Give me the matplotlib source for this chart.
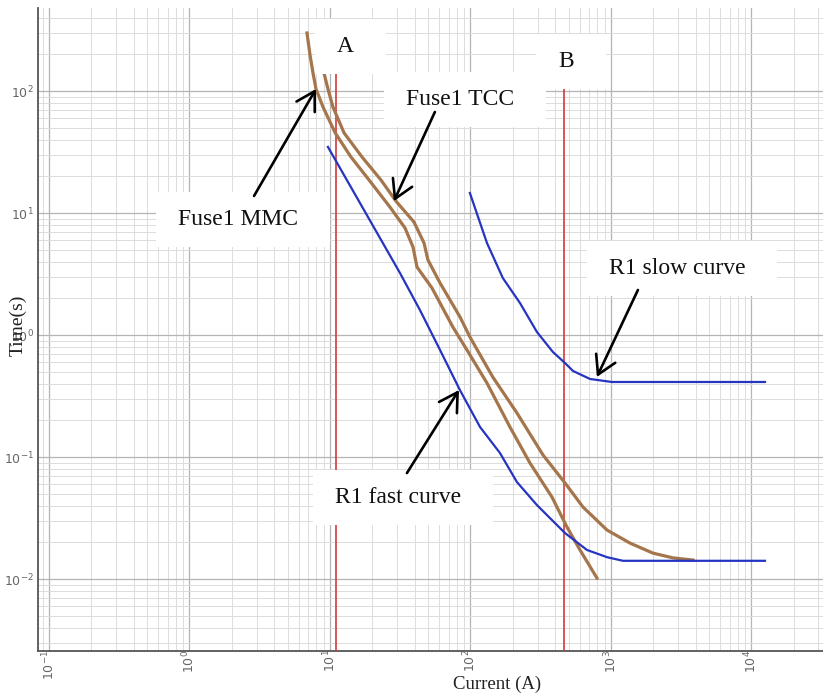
import numpy as np
import matplotlib
matplotlib.use("Agg")
import matplotlib.pyplot as plt
from matplotlib.patches import Rectangle
from matplotlib.transforms import IdentityTransform
from matplotlib.ticker import LogLocator, FixedLocator, FixedFormatter, NullFormatter

# ---------------- data ----------------
mmc_current = [6.86, 7.21, 7.57, 7.95, 8.92, 10.9, 14.1, 19.0, 26.7, 34.2, 39.0, 41.6,
               53.2, 75.0, 94.4, 131, 191, 265, 380, 486, 602, 794]
mmc_time = [299, 197, 140.5, 104, 73.9, 45.3, 28.8, 18.6, 11.2, 7.54, 5.26, 3.61,
            2.43, 1.16, 0.754, 0.404, 0.176, 0.0893, 0.047, 0.0267, 0.0173, 0.0102]

tcc_current = [8.2, 8.49, 9.06, 9.67, 10.5, 12.6, 16.9, 23.1, 29.5, 39.6, 46.7, 49.8,
               60.7, 84.1, 99.1, 144, 214, 328, 471, 632, 937, 1365, 1990, 2761, 3837]
tcc_time = [240, 179.5, 140.5, 104, 73.9, 45.3, 28.8, 18.6, 12.5, 8.44, 5.68, 4.12,
            2.67, 1.41, 0.963, 0.453, 0.230, 0.104, 0.0612, 0.0389, 0.0252, 0.0197,
            0.0163, 0.0149, 0.0143]

fast_current = [9.67, 31.5, 43.7, 60.7, 84.1, 117, 162, 214, 297, 471, 675, 937, 1217, 12480]
fast_time = [34.8, 3.22, 1.60, 0.754, 0.354, 0.176, 0.108, 0.0624, 0.0404,
             0.0238, 0.0173, 0.0151, 0.0141, 0.0141]

slow_current = [99, 131, 170, 225, 297, 386, 471, 537, 710, 1016, 12480]
slow_time = [14.6, 5.68, 2.93, 1.83, 1.06, 0.726, 0.589, 0.507, 0.436, 0.412, 0.412]

line_A_current = 11.0
line_B_current = 466

x_decades = [-1, 0, 1, 2, 3, 4]
y_decades = [-2, -1, 0, 1, 2]
x_tick_labels = [r"$10^{-1}$", r"$10^{0}$", r"$10^{1}$", r"$10^{2}$", r"$10^{3}$", r"$10^{4}$"]
y_tick_labels = [r"$10^{-2}$", r"$10^{-1}$", r"$10^{0}$", r"$10^{1}$", r"$10^{2}$"]

# labels: (text, x, y)
labels = [
    ("A", 12.8, 229.6),
    ("B", 479, 176),
    ("Fuse1 TCC", 84.2, 84.4),
    ("Fuse1 MMC", 2.21, 8.77),
    ("R1 slow curve", 2951, 3.54),
    ("R1 fast curve", 30.5, 0.047),
]
# arrows: (tip_x, tip_y, tail_x, tail_y)
arrows = [
    (7.95, 104, 2.88, 13.8),
    (28.5, 12.5, 55.8, 67.3),
    (794, 0.453, 1556, 2.34),
    (82.8, 0.354, 35.3, 0.0739),
]

# ---------------- figure ----------------
fig = plt.figure(figsize=(8.23, 6.94), dpi=100)
ax = fig.add_axes([38 / 823, 1 - 651 / 694, 1 - 38 / 823, (651 - 8) / 694])
ax.set_xscale("log")
ax.set_yscale("log")
ax.set_xlim(0.0835, 32300)
ax.set_ylim(0.00257, 479)

ax.xaxis.set_major_locator(FixedLocator([10.0 ** d for d in x_decades]))
ax.xaxis.set_major_formatter(FixedFormatter(x_tick_labels))
ax.yaxis.set_major_locator(FixedLocator([10.0 ** d for d in y_decades]))
ax.yaxis.set_major_formatter(FixedFormatter(y_tick_labels))
ax.xaxis.set_minor_locator(LogLocator(base=10, subs=np.arange(2, 10), numticks=20))
ax.yaxis.set_minor_locator(LogLocator(base=10, subs=np.arange(2, 10), numticks=20))
ax.xaxis.set_minor_formatter(NullFormatter())
ax.yaxis.set_minor_formatter(NullFormatter())

ax.grid(True, which="major", color="#b4b4b4", lw=0.9)
ax.grid(True, which="minor", color="#dcdcdc", lw=0.7)
ax.set_axisbelow(True)

ax.tick_params(which="both", length=0)
ax.tick_params(axis="y", labelsize=9, labelcolor="#666666", pad=3)
ax.tick_params(axis="x", labelsize=9, labelcolor="#666666", pad=-1, labelrotation=90)

for s in ["top", "right"]:
    ax.spines[s].set_visible(False)
for s in ["left", "bottom"]:
    ax.spines[s].set_color("#555555")
    ax.spines[s].set_linewidth(1.3)

serif = ["Liberation Serif", "DejaVu Serif"]
ax.set_ylabel("Time(s)", fontsize=14, family=serif, color="#222222")
ax.yaxis.set_label_coords(-0.015, 0.507)
ax.set_xlabel("Current (A)", fontsize=13.5, family=serif, color="#222222")
ax.xaxis.set_label_coords(0.585, -0.038)

# red vertical lines
ylo = ax.get_ylim()[0]
ax.plot([line_A_current, line_A_current], [ylo, 200], color="#d23a3a", lw=1.2, zorder=3)
ax.plot([line_B_current, line_B_current], [ylo, 200], color="#d23a3a", lw=1.2, zorder=3)

# curves
brown = "#a5754b"
blue = "#2634c2"
ax.plot(mmc_current, mmc_time, color=brown, lw=2.3, zorder=4, solid_joinstyle="round")
ax.plot(tcc_current, tcc_time, color=brown, lw=2.3, zorder=4, solid_joinstyle="round")
ax.plot(fast_current, fast_time, color=blue, lw=1.6, zorder=5, solid_joinstyle="round")
ax.plot(slow_current, slow_time, color=blue, lw=1.6, zorder=5, solid_joinstyle="round")

# labels
texts = []
for txt, x, y in labels:
    t = ax.text(x, y, txt, fontsize=17, family=serif, color="#111111",
                ha="center", va="center", zorder=8)
    texts.append(t)

# white boxes behind labels (pixel padding, asymmetric like the reference)
fig.canvas.draw()
renderer = fig.canvas.get_renderer()
pad_l, pad_r, pad_t, pad_b = 22, 32, 17, 17
for t in texts:
    bb = t.get_window_extent(renderer)
    rect = Rectangle((bb.x0 - pad_l, bb.y0 - pad_b), bb.width + pad_l + pad_r,
                     bb.height + pad_t + pad_b, transform=IdentityTransform(),
                     facecolor="white", edgecolor="none", zorder=7, clip_on=False)
    ax.add_artist(rect)

# arrows
for tx, ty, sx, sy in arrows:
    ax.annotate("", xy=(tx, ty), xytext=(sx, sy), zorder=9,
                arrowprops=dict(arrowstyle="->,head_length=0.65,head_width=0.38",
                                color="black", lw=1.9, mutation_scale=20,
                                shrinkA=0, shrinkB=0))

fig.savefig("out.png", dpi=100)
